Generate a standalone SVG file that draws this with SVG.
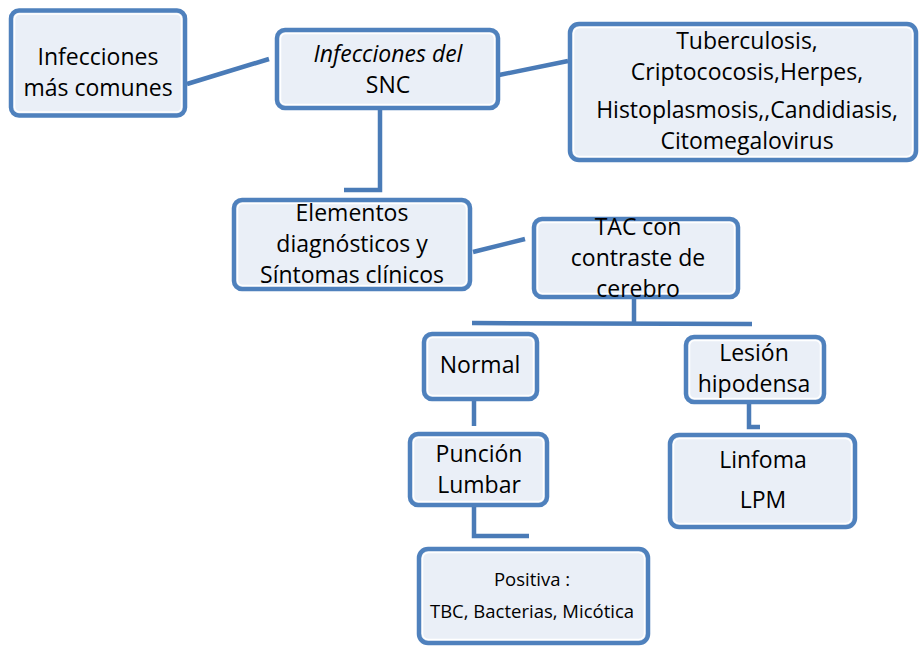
<svg xmlns="http://www.w3.org/2000/svg" width="920" height="646" viewBox="0 0 920 646">
  <style>
    .box { fill: #eaeff7; stroke: #4f81bd; stroke-width: 4.5; }
    .hl { fill: none; stroke: #ffffff; stroke-width: 1.5; }
    .link { fill: none; stroke: #4a7bb7; stroke-width: 4.5; stroke-linejoin: miter; }
    text { font-family: "Open Sans", "Liberation Sans", sans-serif; font-size: 23px; fill: #000; text-anchor: middle; }
    .small { font-size: 18.5px; }
  </style>

  <!-- connectors -->
  <g id="connectors">
    <line class="link" x1="187" y1="84" x2="269" y2="59"/>
    <line class="link" x1="499" y1="75" x2="568" y2="61"/>
    <polyline class="link" points="380,109 380,190 344,190"/>
    <line class="link" x1="473" y1="252" x2="525" y2="239"/>
    <polyline class="link" points="634,298 634,324"/>
    <line class="link" x1="472" y1="323" x2="752" y2="324"/>
    <line class="link" x1="474" y1="400" x2="474" y2="426"/>
    <polyline class="link" points="749,403 749,427 760,427"/>
    <polyline class="link" points="474,507 474,536 529,536"/>
  </g>

  <g id="n-comunes">
    <rect class="box" x="11" y="10.5" width="174" height="105" rx="8"/>
    <rect class="hl" x="14.5" y="14" width="167" height="98" rx="5"/>
    <text x="98" y="65">Infecciones</text>
    <text x="98" y="96">más comunes</text>
  </g>

  <g id="n-snc">
    <rect class="box" x="277" y="30" width="221" height="78" rx="8"/>
    <rect class="hl" x="280.5" y="33.5" width="214" height="71" rx="5"/>
    <text x="388" y="62" font-style="italic">Infecciones del</text>
    <text x="388" y="93">SNC</text>
  </g>

  <g id="n-lista">
    <rect class="box" x="570" y="24" width="346" height="136" rx="9"/>
    <rect class="hl" x="573.5" y="27.5" width="339" height="129" rx="6"/>
    <text x="747" y="49">Tuberculosis,</text>
    <text x="747" y="80">Criptococosis,Herpes,</text>
    <text x="747" y="118">Histoplasmosis,,Candidiasis,</text>
    <text x="747" y="149">Citomegalovirus</text>
  </g>

  <g id="n-elementos">
    <rect class="box" x="234" y="200" width="236" height="89" rx="8"/>
    <rect class="hl" x="237.5" y="203.5" width="229" height="82" rx="5"/>
    <text x="352" y="221">Elementos</text>
    <text x="352" y="252">diagnósticos y</text>
    <text x="352" y="283">Síntomas clínicos</text>
  </g>

  <g id="n-tac">
    <rect class="box" x="534" y="219" width="204" height="78" rx="8"/>
    <rect class="hl" x="537.5" y="222.5" width="197" height="71" rx="5"/>
    <text x="638" y="235">TAC con</text>
    <text x="638" y="266">contraste de</text>
    <text x="638" y="297">cerebro</text>
  </g>

  <g id="n-normal">
    <rect class="box" x="424" y="334" width="113" height="65" rx="8"/>
    <rect class="hl" x="427.5" y="337.5" width="106" height="58" rx="5"/>
    <text x="480" y="373">Normal</text>
  </g>

  <g id="n-lesion">
    <rect class="box" x="686" y="337" width="138" height="65" rx="8"/>
    <rect class="hl" x="689.5" y="340.5" width="131" height="58" rx="5"/>
    <text x="754" y="361">Lesión</text>
    <text x="754" y="392">hipodensa</text>
  </g>

  <g id="n-puncion">
    <rect class="box" x="410" y="434" width="137" height="71" rx="8"/>
    <rect class="hl" x="413.5" y="437.5" width="130" height="64" rx="5"/>
    <text x="479" y="462">Punción</text>
    <text x="479" y="493">Lumbar</text>
  </g>

  <g id="n-linfoma">
    <rect class="box" x="670" y="435" width="185" height="92" rx="9"/>
    <rect class="hl" x="673.5" y="438.5" width="178" height="85" rx="6"/>
    <text x="763" y="468">Linfoma</text>
    <text x="763" y="508">LPM</text>
  </g>

  <g id="n-positiva">
    <rect class="box" x="419" y="549" width="229" height="94" rx="9"/>
    <rect class="hl" x="422.5" y="552.5" width="222" height="87" rx="6"/>
    <text class="small" x="532" y="586">Positiva :</text>
    <text class="small" x="532" y="618">TBC, Bacterias, Micótica</text>
  </g>
</svg>
